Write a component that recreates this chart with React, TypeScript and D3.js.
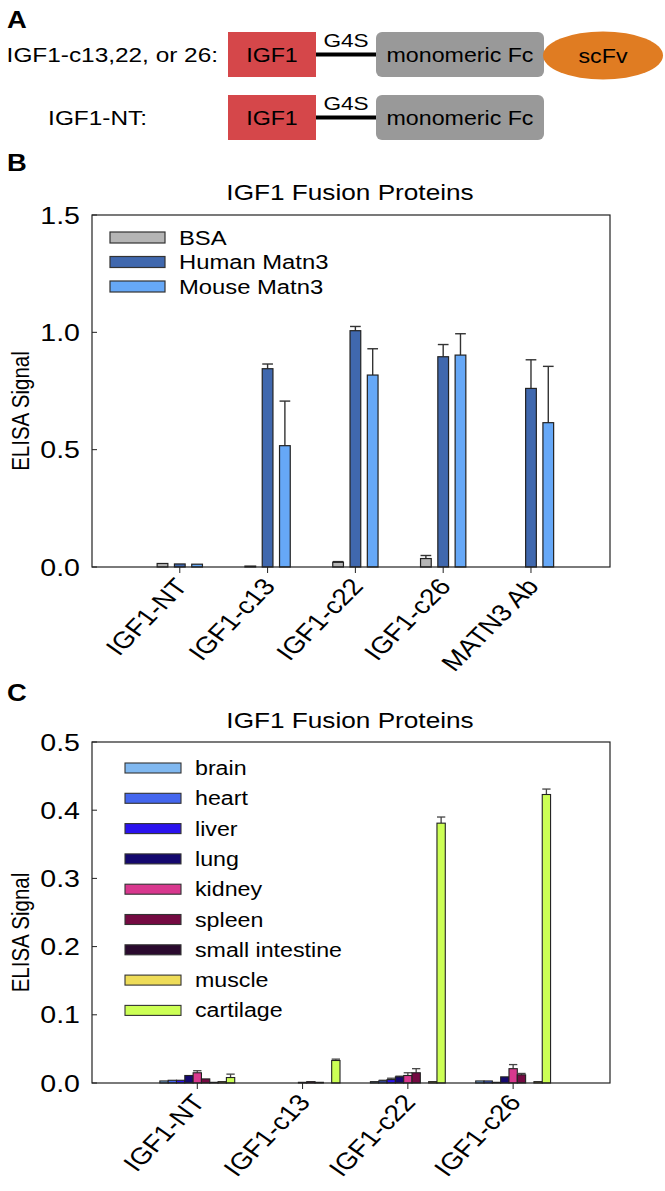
import React from 'react';
import * as d3 from 'd3';

const SX = 1.19;
const FONT = "Arial, 'Liberation Sans', Helvetica, sans-serif";

// ---------- Panel B data ----------
const bCategories = ["IGF1-NT", "IGF1-c13", "IGF1-c22", "IGF1-c26", "MATN3 Ab"];
const bSeries = ["BSA", "Human Matn3", "Mouse Matn3"];
const bColors = ["#b5b5b5", "#4068ae", "#66a8f7"];
const bsaValues = [0.015, 0.004, 0.02, 0.036, null];
const bsaErrors = [0, 0, 0.003, 0.013, null];
const humanValues = [0.013, 0.845, 1.007, 0.896, 0.761];
const humanErrors = [0, 0.02, 0.018, 0.052, 0.122];
const mouseValues = [0.012, 0.517, 0.818, 0.903, 0.615];
const mouseErrors = [0, 0.19, 0.112, 0.091, 0.24];
const bTicks = [0.0, 0.5, 1.0, 1.5];

// ---------- Panel C data ----------
const cCategories = ["IGF1-NT", "IGF1-c13", "IGF1-c22", "IGF1-c26"];
const cSeries = ["brain", "heart", "liver", "lung", "kidney", "spleen", "small intestine", "muscle", "cartilage"];
const cColors = ["#80b8f0", "#4466ee", "#2a12ee", "#14086e", "#d8388e", "#740a42", "#2a0a2e", "#eedc58", "#ccff55"];
const brainValues = [0.003, 0, 0.002, 0.003];
const heartValues = [0.004, 0, 0.003, 0.003];
const liverValues = [0.004, 0, 0.005, 0.001];
const lungValues = [0.011, 0, 0.009, 0.009];
const kidneyValues = [0.015, 0.001, 0.011, 0.021];
const spleenValues = [0.006, 0.002, 0.015, 0.012];
const smallIntestineValues = [0.001, 0.001, 0, 0];
const muscleValues = [0.002, 0, 0.002, 0.002];
const cartilageValues = [0.008, 0.033, 0.381, 0.423];
const brainErrors = [0, 0, 0, 0];
const heartErrors = [0, 0, 0.001, 0];
const liverErrors = [0, 0, 0.002, 0];
const lungErrors = [0, 0, 0.001, 0];
const kidneyErrors = [0.003, 0, 0.004, 0.006];
const spleenErrors = [0, 0, 0.006, 0.002];
const smallIntestineErrors = [0, 0, 0, 0];
const muscleErrors = [0, 0, 0, 0];
const cartilageErrors = [0.005, 0.002, 0.009, 0.008];
const cTicks = [0.0, 0.1, 0.2, 0.3, 0.4, 0.5];

const cValues = [brainValues, heartValues, liverValues, lungValues, kidneyValues, spleenValues, smallIntestineValues, muscleValues, cartilageValues];
const cErrors = [brainErrors, heartErrors, liverErrors, lungErrors, kidneyErrors, spleenErrors, smallIntestineErrors, muscleErrors, cartilageErrors];
const bValues = [bsaValues, humanValues, mouseValues];
const bErrors = [bsaErrors, humanErrors, mouseErrors];

type TP = { x: number; y: number; size: number; anchor?: string; weight?: string; rotate?: number; fill?: string; children: any };
const T = ({ x, y, size, anchor = 'start', weight = 'normal', rotate = 0, fill = '#000', children }: TP) => (
  <text
    transform={`translate(${x},${y}) scale(${SX},1)${rotate ? ` rotate(${rotate})` : ''}`}
    fontSize={size}
    textAnchor={anchor as any}
    fontWeight={weight}
    fill={fill}
    fontFamily={FONT}
  >
    {children}
  </text>
);

const L = 92, R = 610;

function PanelB() {
  const top = 215, bottom = 567;
  const x = d3.scaleLinear().domain([0, 5.9]).range([L, R]);
  const y = d3.scaleLinear().domain([0, 1.5]).range([bottom, top]);
  const step = 0.197, bw = 0.122;
  const bars: any[] = [];
  bValues.forEach((vals, si) => {
    vals.forEach((v, ci) => {
      if (v === null || v === undefined) return;
      const x0 = x(ci + 1 - bw / 2 + (si - 1) * step);
      const w = x(bw) - x(0);
      const e = bErrors[si][ci] || 0;
      bars.push(
        <g key={`b${si}-${ci}`}>
          {e > 0 && (
            <g stroke="#333" strokeWidth={1.4}>
              <line x1={x0 + w / 2} x2={x0 + w / 2} y1={y(v)} y2={y(v + e)} />
              <line x1={x0} x2={x0 + w} y1={y(v + e)} y2={y(v + e)} />
            </g>
          )}
          <rect x={x0} y={y(v)} width={w} height={y(0) - y(v)} fill={bColors[si]} stroke="#222" strokeWidth={1.2} />
        </g>
      );
    });
  });
  return (
    <g>
      <T x={7} y={171} size={23} weight="bold">B</T>
      <T x={350} y={200} size={22} anchor="middle">IGF1 Fusion Proteins</T>
      <T x={29} y={(top + bottom) / 2 + 20} size={20.5} anchor="middle" rotate={-90}>ELISA Signal</T>
      {bTicks.map((t) => (
        <g key={t}>
          <line x1={L} x2={L + 5} y1={y(t)} y2={y(t)} stroke="#222" />
          <T x={80} y={y(t) + 8.5} size={24} anchor="end">{t.toFixed(1)}</T>
        </g>
      ))}
      {bars}
      <rect x={L} y={top} width={R - L} height={bottom - top} fill="none" stroke="#222" strokeWidth={1.2} />
      {bCategories.map((c, i) => (
        <g key={c}>
          <line x1={x(i + 1)} x2={x(i + 1)} y1={bottom} y2={bottom + 6} stroke="#222" />
          <T x={x(i + 1) + 9} y={bottom + 20} size={23.5} anchor="end" rotate={-50}>{c}</T>
        </g>
      ))}
      {bSeries.map((s, i) => (
        <g key={s}>
          <rect x={110} y={232 + i * 24.5} width={55} height={11} fill={bColors[i]} stroke="#333" strokeWidth={1.2} />
          <T x={179} y={244.5 + i * 24.5} size={20}>{s}</T>
        </g>
      ))}
    </g>
  );
}

function PanelC() {
  const top = 742, bottom = 1083;
  const x = d3.scaleLinear().domain([0, 4.92]).range([L, R]);
  const y = d3.scaleLinear().domain([0, 0.5]).range([bottom, top]);
  const bw = 0.079;
  const n = cSeries.length;
  const bars: any[] = [];
  cValues.forEach((vals, si) => {
    vals.forEach((v, ci) => {
      if (!(v > 0)) return;
      const x0 = x(ci + 1 + (si - (n - 1) / 2) * bw - bw / 2);
      const w = x(bw) - x(0);
      const e = cErrors[si][ci] || 0;
      bars.push(
        <g key={`c${si}-${ci}`}>
          {e > 0 && (
            <g stroke="#444" strokeWidth={1.3}>
              <line x1={x0 + w / 2} x2={x0 + w / 2} y1={y(v)} y2={y(v + e)} />
              <line x1={x0} x2={x0 + w} y1={y(v + e)} y2={y(v + e)} />
            </g>
          )}
          <rect x={x0} y={y(v)} width={w} height={y(0) - y(v)} fill={cColors[si]} stroke="#222" strokeWidth={1.1} />
        </g>
      );
    });
  });
  return (
    <g>
      <T x={7} y={701} size={23} weight="bold">C</T>
      <T x={350} y={728} size={22} anchor="middle">IGF1 Fusion Proteins</T>
      <T x={29} y={(top + bottom) / 2 + 20} size={20.5} anchor="middle" rotate={-90}>ELISA Signal</T>
      {cTicks.map((t) => (
        <g key={t}>
          <line x1={L} x2={L + 5} y1={y(t)} y2={y(t)} stroke="#222" />
          <T x={80} y={y(t) + 8.5} size={24} anchor="end">{t.toFixed(1)}</T>
        </g>
      ))}
      {bars}
      <rect x={L} y={top} width={R - L} height={bottom - top} fill="none" stroke="#222" strokeWidth={1.2} />
      {cCategories.map((c, i) => (
        <g key={c}>
          <line x1={x(i + 1)} x2={x(i + 1)} y1={bottom} y2={bottom + 6} stroke="#222" />
          <T x={x(i + 1) + 9} y={bottom + 20} size={23.5} anchor="end" rotate={-50}>{c}</T>
        </g>
      ))}
      {cSeries.map((s, i) => (
        <g key={s}>
          <rect x={125} y={763 + i * 30.3} width={56} height={10} fill={cColors[i]} stroke="#333" strokeWidth={1.1} />
          <T x={195} y={775 + i * 30.3} size={19.5}>{s}</T>
        </g>
      ))}
    </g>
  );
}

function PanelA() {
  const rows = [
    { label: "IGF1-c13,22, or 26:", labelX: 218, top: 32, scfv: true },
    { label: "IGF1-NT:", labelX: 147, top: 95, scfv: false },
  ];
  const h = 45;
  return (
    <g>
      <T x={7} y={28} size={23} weight="bold">A</T>
      {rows.map((r) => {
        const cy = r.top + h / 2;
        return (
          <g key={r.label}>
            <T x={r.labelX} y={cy + 7.5} size={20.5} anchor="end">{r.label}</T>
            <rect x={228} y={r.top} width={88} height={h} fill="#d5474a" />
            <T x={272} y={cy + 7.5} size={19.5} anchor="middle">IGF1</T>
            <line x1={316} x2={376} y1={cy} y2={cy} stroke="#000" strokeWidth={4} />
            <T x={346} y={cy - 8} size={19} anchor="middle">G4S</T>
            <rect x={376} y={r.top} width={168} height={h} rx={6} fill="#999999" />
            <T x={460} y={cy + 7.5} size={19.5} anchor="middle">monomeric Fc</T>
            {r.scfv && (
              <g>
                <ellipse cx={603} cy={cy + 1} rx={60} ry={24} fill="#e07c22" />
                <T x={603} y={cy + 8.5} size={19.5} anchor="middle">scFv</T>
              </g>
            )}
          </g>
        );
      })}
    </g>
  );
}

export default function App() {
  return (
    <svg width={665} height={1191} style={{ display: 'block', position: 'absolute', left: 0, top: 0, background: '#fff' }}>
      <rect x={0} y={0} width={665} height={1191} fill="#fff" />
      <PanelA />
      <PanelB />
      <PanelC />
    </svg>
  );
}
